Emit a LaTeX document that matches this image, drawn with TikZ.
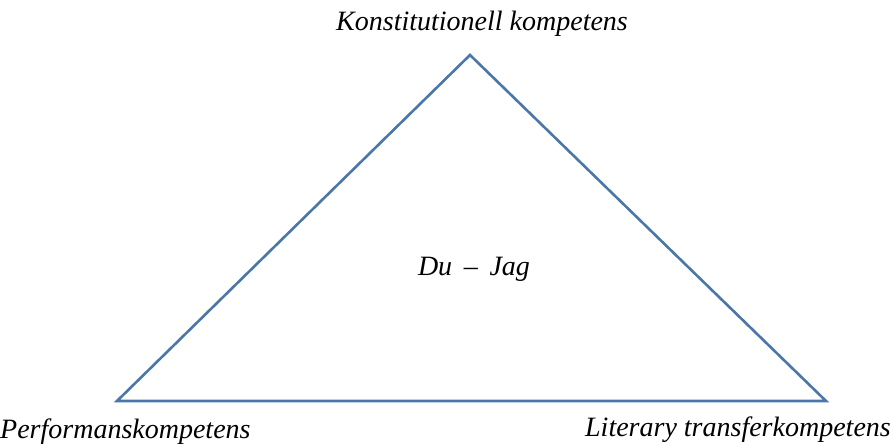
\documentclass[tikz,border=0pt]{standalone}
\usepackage{fontspec}
\setmainfont{Liberation Serif}
\usepackage{tikz}
\definecolor{edgeblue}{HTML}{4A77A8}
\begin{document}
\begin{tikzpicture}[x=1pt,y=-1pt,font=\fontsize{28}{32}\selectfont\itshape,
  label/.style={inner sep=0pt},
  side/.style={draw=edgeblue,line width=2.6pt,line join=miter}]
  \useasboundingbox (0,0) rectangle (893,446);
  \coordinate (apex) at (470,55);
  \coordinate (left) at (117,401);
  \coordinate (right) at (826,401);
  \node[label] (konst) at (482,24) {Konstitutionell kompetens};
  \node[label] (duJag) at (474,269) {Du \,--\, Jag};
  \node[label,anchor=west] (perf) at (0,432) {Performanskompetens};
  \node[label,anchor=east] (lit) at (891,430) {Literary transferkompetens};
  \draw[side] (apex) -- (right) -- (left) -- cycle;
\end{tikzpicture}
\end{document}
